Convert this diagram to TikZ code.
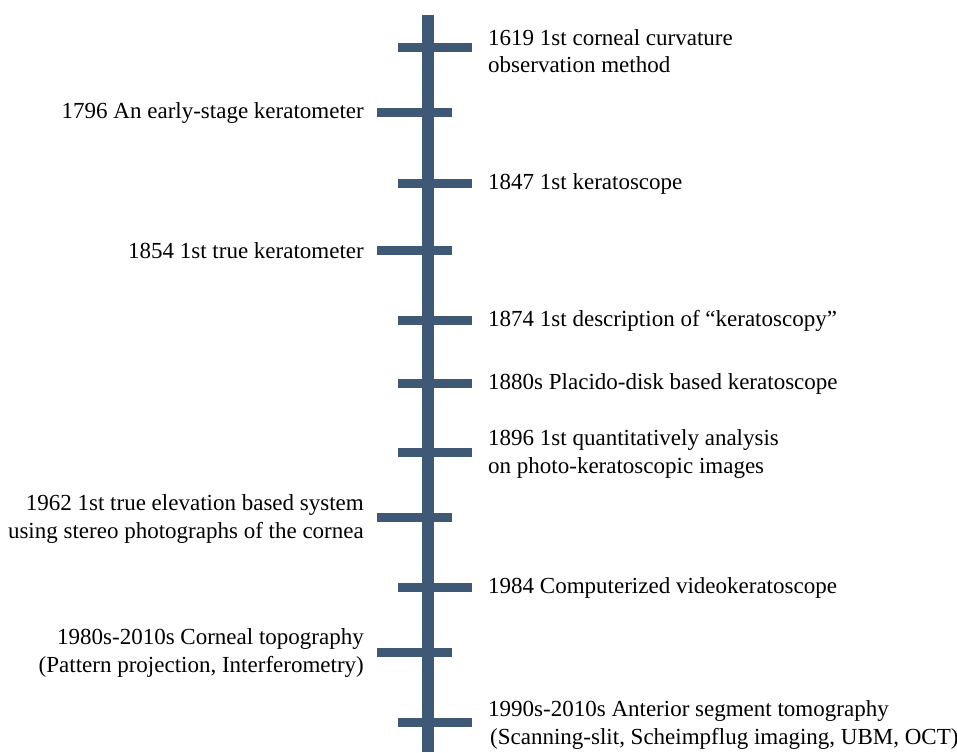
\documentclass[tikz,border=0pt]{standalone}
\usepackage{fontspec}
\setmainfont{Liberation Serif}
\usetikzlibrary{positioning}
\definecolor{axisblue}{RGB}{62,88,118}

\begin{document}
\begin{tikzpicture}[
    x=1pt, y=-1pt,
    every node/.style={font=\fontsize{23}{27.5}\selectfont, inner sep=0pt, text=black},
    axis/.style={draw=axisblue, line width=12pt},
    tickbar/.style={draw=axisblue, line width=9pt},
    rightevent/.style={anchor=west, align=left},
    leftevent/.style={anchor=east, align=right}
]
    \useasboundingbox (0,0) rectangle (957,752);

    % Time axis
    \coordinate (top) at (427.5,15);
    \coordinate (bottom) at (427.5,752);
    \draw[axis] (top) -- (bottom);

    % 1619
    \draw[tickbar] (398,48) -- (472,48);
    \node[rightevent] (e1619) at (488,51) {1619 1st corneal curvature\\observation method};

    % 1796
    \draw[tickbar] (377,112) -- (452,112);
    \node[leftevent] (e1796) at (364,113) {1796 An early-stage keratometer};

    % 1847
    \draw[tickbar] (398,183) -- (472,183);
    \node[rightevent] (e1847) at (488,184) {1847 1st keratoscope};

    % 1854
    \draw[tickbar] (377,250) -- (452,250);
    \node[leftevent] (e1854) at (364,251) {1854 1st true keratometer};

    % 1874
    \draw[tickbar] (398,320) -- (472,320);
    \node[rightevent] (e1874) at (488,321) {1874 1st description of “keratoscopy”};

    % 1880s
    \draw[tickbar] (398,383) -- (472,383);
    \node[rightevent] (e1880) at (488,384) {1880s Placido-disk based keratoscope};

    % 1896
    \draw[tickbar] (398,452) -- (472,452);
    \node[rightevent] (e1896) at (488,454) {1896 1st quantitatively analysis\\on photo-keratoscopic images};

    % 1962
    \draw[tickbar] (377,517) -- (452,517);
    \node[leftevent] (e1962) at (364,519) {1962 1st true elevation based system\\using stereo photographs of the cornea};

    % 1984
    \draw[tickbar] (398,587) -- (472,587);
    \node[rightevent] (e1984) at (488,588) {1984 Computerized videokeratoscope};

    % 1980s-2010s
    \draw[tickbar] (377,652) -- (452,652);
    \node[leftevent] (e1980) at (364,653) {1980s-2010s Corneal topography\\(Pattern projection, Interferometry)};

    % 1990s-2010s
    \draw[tickbar] (398,722) -- (472,722);
    \node[rightevent] (e1990) at (488,725) {1990s-2010s Anterior segment tomography\\\hspace{2pt}(Scanning-slit, Scheimpflug imaging, UBM, OCT)};
\end{tikzpicture}
\end{document}
